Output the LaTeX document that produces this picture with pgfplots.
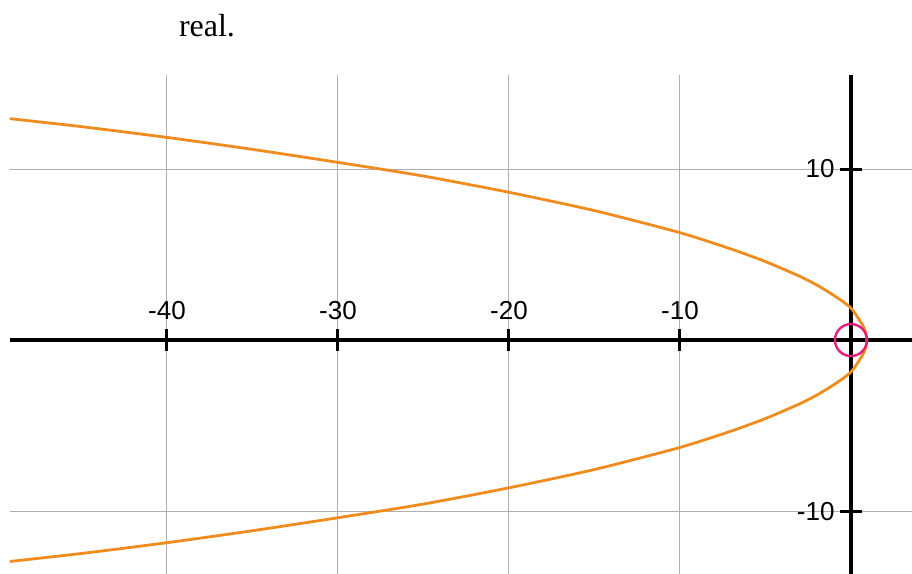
\documentclass[border=0pt]{standalone}
\usepackage{fontspec}
\setmainfont{Liberation Serif}
\setsansfont{Liberation Sans}
\usepackage{pgfplots}
\pgfplotsset{compat=1.18}
\definecolor{curvec}{RGB}{240,140,30}
\definecolor{markc}{RGB}{228,30,125}
\definecolor{gridc}{RGB}{175,175,175}

% curve, upper branch -> vertex -> lower branch
\pgfplotstableread{
x      y
-49.3  12.96
-45    12.48
-40    11.85
-35    11.15
-30    10.39
-25    9.59
-20    8.64
-15    7.57
-10    6.28
-7     5.32
-5     4.59
-3     3.73
-2     3.22
-1.2   2.74
-0.5   2.27
0      1.87
0.4    1.32
0.72   0.80
0.87   0.42
0.93   0
0.87  -0.42
0.72  -0.80
0.4   -1.32
0     -1.87
-0.5  -2.27
-1.2  -2.74
-2    -3.22
-3    -3.73
-5    -4.59
-7    -5.32
-10   -6.28
-15   -7.57
-20   -8.64
-25   -9.59
-30   -10.39
-35   -11.15
-40   -11.85
-45   -12.48
-49.3 -12.96
}\curvedata

\begin{document}
\begin{tikzpicture}
\begin{axis}[
  scale only axis, width=451pt, height=249.5pt,
  xmin=-49.18, xmax=3.57, ymin=-13.68, ymax=15.50,
  axis lines=middle,
  axis line style={-, line width=1.6pt, black},
  every inner x axis line/.append style={-},
  every inner y axis line/.append style={-},
  xtick={-40,-30,-20,-10}, xticklabels={-40,-30,-20,-10},
  ytick={-10,10}, yticklabels={-10,10},
  grid=major, grid style={gridc, line width=0.5pt},
  major tick length=11pt, tick align=center,
  tick style={black, line width=1.5pt},
  tick label style={font=\sffamily\fontsize{13}{15}\selectfont, inner sep=0pt},
  xticklabel style={anchor=south, yshift=15.5pt},
  yticklabel style={anchor=east, xshift=-2.5pt},
]
\coordinate (bl) at (rel axis cs:0,0);
\coordinate (tr) at (rel axis cs:1,1);
\coordinate (tl) at (rel axis cs:0,1);
\addplot[curvec, line width=1.4pt, smooth, tension=0.4] table[x=x, y=y] {\curvedata};
\addplot[only marks, mark=o, mark size=8pt, mark options={draw=markc, line width=1.2pt}] coordinates {(0,0)};
\end{axis}
\node[anchor=base, font=\fontsize{16}{19}\selectfont] at ([xshift=98.5pt, yshift=19pt]tl) {real.};
\pgfresetboundingbox
\path[use as bounding box] ([xshift=-5pt]bl) rectangle ([yshift=37.5pt]tr);
\end{tikzpicture}
\end{document}
